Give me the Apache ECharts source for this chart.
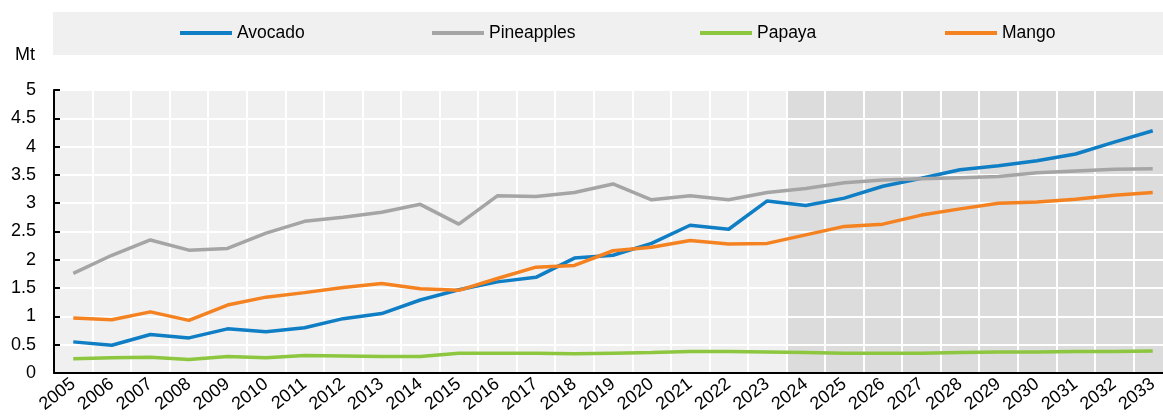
<!DOCTYPE html>
<html>
<head>
<meta charset="utf-8">
<script src="https://cdn.jsdelivr.net/npm/echarts@6/dist/echarts.min.js"></script>
<style>
html,body{margin:0;padding:0;background:#fff;overflow:hidden;}
/* the plot runs a few pixels past the right edge of the picture, as in the original */
#chart{width:1172px;height:416px;}
</style>
</head>
<body>
<div id="chart"></div>
<script>
// years and series values (Mt)
const years = ['2005','2006','2007','2008','2009','2010','2011','2012','2013','2014','2015','2016','2017','2018','2019',
  '2020','2021','2022','2023','2024','2025','2026','2027','2028','2029','2030','2031','2032','2033']
const avocado = [0.55,0.49,0.68,0.62,0.78,0.73,0.80,0.96,1.05,1.29,1.47,1.61,1.69,2.03,2.08,2.29,2.61,2.54,3.04,2.96,3.09,3.30,3.44,3.59,3.66,3.75,3.87,4.08,4.28]
const pineapples = [1.76,2.08,2.35,2.17,2.20,2.47,2.68,2.75,2.84,2.98,2.63,3.13,3.12,3.19,3.34,3.06,3.13,3.06,3.19,3.26,3.36,3.41,3.43,3.45,3.47,3.54,3.57,3.60,3.61]
const papaya = [0.25,0.27,0.28,0.24,0.29,0.27,0.31,0.30,0.29,0.29,0.35,0.35,0.35,0.34,0.35,0.36,0.38,0.38,0.37,0.36,0.35,0.35,0.35,0.36,0.37,0.37,0.38,0.38,0.39]
const mango = [0.97,0.94,1.08,0.93,1.20,1.34,1.42,1.51,1.58,1.49,1.46,1.67,1.87,1.90,2.16,2.22,2.34,2.28,2.29,2.44,2.59,2.63,2.79,2.90,3.00,3.02,3.07,3.14,3.19]
const projStart = 19 // index of 2024, projection period shaded

const font = "'Liberation Sans', Arial, sans-serif"
const chart = echarts.init(document.getElementById('chart'))

function legendAt(name, left){
  return {
    data:[name], left:left, top:24, padding:0,
    icon:'rect', itemWidth:52, itemHeight:4, itemGap:5,
    textStyle:{fontFamily:font, fontSize:17.5, color:'#000'}
  }
}
function lineSeries(name, data, color){
  return {
    name:name, type:'line', data:data, symbol:'none', smooth:false,
    lineStyle:{color:color, width:3.5}, itemStyle:{color:color}, z:3
  }
}

chart.setOption({
  animation:false,
  textStyle:{fontFamily:font},
  title:{text:'Mt', left:10, top:41, textStyle:{fontFamily:font, fontSize:18, fontWeight:'normal', color:'#000'}},
  graphic:[{type:'rect', left:53, top:12, shape:{width:1110, height:43}, style:{fill:'#f0f0f0'}, z:-10}],
  legend:[
    legendAt('Avocado',180),
    legendAt('Pineapples',432),
    legendAt('Papaya',700),
    legendAt('Mango',945)
  ],
  grid:{left:54, right:0, top:90, bottom:43},
  xAxis:[{
    type:'category', data:years, boundaryGap:true,
    axisLine:{lineStyle:{color:'#000', width:2}},
    axisTick:{inside:true, length:6, interval:0, lineStyle:{color:'#000', width:2}},
    axisLabel:{interval:0, rotate:38, margin:9, fontSize:18, color:'#000', fontFamily:font},
    splitLine:{show:true, interval:0, lineStyle:{color:'#fff', width:2}}
  },{
    type:'value', min:0, max:29, show:false
  }],
  yAxis:{
    type:'value', min:0, max:5, interval:0.5,
    axisLine:{show:true, lineStyle:{color:'#000', width:2}},
    axisTick:{show:true, inside:true, length:6, lineStyle:{color:'#000', width:2}},
    axisLabel:{margin:18, fontSize:18, color:'#000', fontFamily:font},
    splitLine:{lineStyle:{color:'#fff', width:2}}
  },
  series:[
    {
      type:'line', xAxisIndex:1, data:[[0,0]], symbol:'none', silent:true,
      lineStyle:{opacity:0}, z:-1,
      markArea:{silent:true, z:-1, data:[
        [{xAxis:0, itemStyle:{color:'#f0f0f0'}},{xAxis:projStart}],
        [{xAxis:projStart, itemStyle:{color:'#dcdcdc'}},{xAxis:29}]
      ]}
    },
    lineSeries('Avocado', avocado, '#0f7ec4'),
    lineSeries('Pineapples', pineapples, '#a5a5a5'),
    lineSeries('Papaya', papaya, '#8dc63f'),
    lineSeries('Mango', mango, '#f58220')
  ]
})
</script>
</body>
</html>
